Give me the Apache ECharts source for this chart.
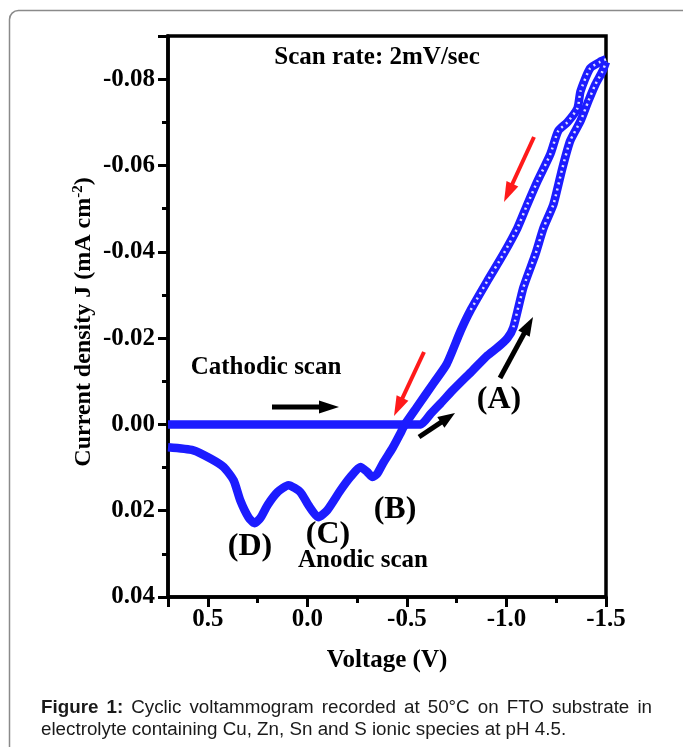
<!DOCTYPE html>
<html>
<head>
<meta charset="utf-8">
<script src="https://cdn.jsdelivr.net/npm/echarts@6/dist/echarts.min.js"></script>
<style>
  html, body { margin: 0; padding: 0; background: #fff; }
  #chart { width: 683px; height: 747px; }
</style>
</head>
<body>
<div id="chart"></div>
<script>
// Forward (cathodic) sweep: potential in V, current density in mA cm^-2
const cathodicV = [0.70, 0.50, 0.30, 0.10, -0.10, -0.30, -0.50, -0.57, -0.62, -0.67, -0.73, -0.83, -0.905, -0.955, -1.005, -1.035, -1.085, -1.146, -1.186, -1.236, -1.281, -1.32, -1.372, -1.412, -1.447, -1.482, -1.50];
const cathodicJ = [0.0, 0.0, 0.0, 0.0, 0.0, 0.0, 0.0, 0.0, -0.0025, -0.0049, -0.0079, -0.0125, -0.016, -0.0178, -0.020, -0.0225, -0.0317, -0.0395, -0.0455, -0.051, -0.0594, -0.0657, -0.0703, -0.075, -0.0788, -0.0818, -0.084];

// Reverse (anodic) sweep
const anodicV = [-1.50, -1.47, -1.42, -1.372, -1.357, -1.306, -1.26, -1.221, -1.156, -1.105, -1.055, -0.985, -0.905, -0.819, -0.77, -0.70, -0.633, -0.55, -0.49, -0.467, -0.43, -0.38, -0.35, -0.327, -0.30, -0.266, -0.216, -0.166, -0.10, -0.055, -0.005, 0.035, 0.095, 0.15, 0.20, 0.236, 0.266, 0.296, 0.337, 0.37, 0.42, 0.487, 0.573, 0.70];
const anodicJ = [-0.0846, -0.084, -0.0825, -0.0772, -0.0733, -0.070, -0.068, -0.0627, -0.0564, -0.051, -0.0455, -0.0395, -0.0333, -0.0264, -0.0217, -0.014, -0.0095, -0.004, 0.0, 0.0021, 0.0053, 0.009, 0.0115, 0.0122, 0.011, 0.0099, 0.0122, 0.0153, 0.0199, 0.0215, 0.0187, 0.0157, 0.0141, 0.0157, 0.0187, 0.0217, 0.0229, 0.0215, 0.0176, 0.013, 0.0099, 0.0079, 0.006, 0.0053];

// Tick labels
const xTickLabels = [0.5, 0.0, -0.5, -1.0, -1.5];
const yTickLabels = [-0.08, -0.06, -0.04, -0.02, 0.00, 0.02, 0.04];

const zip = (xs, ys) => xs.map((x, i) => [x, ys[i]]);
const SERIF = '"Liberation Serif", "Times New Roman", serif';
const SANS = '"Liberation Sans", Arial, sans-serif';
const BLUE = '#1c1cff';

// where the sweep is steep the open-circle markers spread apart and the trace looks speckled
const steep = (pts) => pts.filter(p => p[1] <= -0.022);

const chart = echarts.init(document.getElementById('chart'), null, { renderer: 'canvas' });

function arrow(x1, y1, x2, y2, color, w, hl, hw) {
  const dx = x2 - x1, dy = y2 - y1, L = Math.hypot(dx, dy);
  const ux = dx / L, uy = dy / L, px = -uy, py = ux;
  const bx = x2 - ux * hl, by = y2 - uy * hl;
  return [
    { type: 'line', shape: { x1: x1, y1: y1, x2: bx + ux, y2: by + uy }, style: { stroke: color, lineWidth: w } },
    { type: 'polygon', shape: { points: [[x2, y2], [bx + px * hw / 2, by + py * hw / 2], [bx - px * hw / 2, by - py * hw / 2]] }, style: { fill: color } }
  ];
}

function label(text, x, y, size) {
  return {
    type: 'text', x: x, y: y,
    style: { text: text, fontFamily: SERIF, fontWeight: 'bold', fontSize: size, fill: '#000', align: 'center', verticalAlign: 'middle' }
  };
}

// Caption, first line justified between its margins
function captionLine1(left, right, y, size) {
  const words = [['Figure', true], ['1:', true], ['Cyclic'], ['voltammogram'], ['recorded'], ['at'], ['50°C'], ['on'], ['FTO'], ['substrate'], ['in']];
  const ctx = document.createElement('canvas').getContext('2d');
  const widths = words.map(([w, b]) => {
    ctx.font = (b ? 'bold ' : '') + size + 'px ' + SANS;
    return ctx.measureText(w).width;
  });
  const total = widths.reduce((a, b) => a + b, 0);
  const gap = (right - left - total) / (words.length - 1);
  let x = left;
  return words.map(([w, b], i) => {
    const el = {
      type: 'text', x: x, y: y,
      style: { text: w, fontFamily: SANS, fontWeight: b ? 'bold' : 'normal', fontSize: size, fill: '#1a1a1a', align: 'left', verticalAlign: 'middle' }
    };
    x += widths[i] + gap;
    return el;
  });
}

const graphics = [
  // figure frame
  { type: 'rect', shape: { x: 9.5, y: 10.5, width: 700, height: 800, r: [9, 0, 0, 0] }, style: { fill: 'none', stroke: '#8a8a8a', lineWidth: 1.5 }, silent: true },
  label('Scan rate: 2mV/sec', 377, 58, 25),
  label('Cathodic scan', 266, 368, 25),
  label('Anodic scan', 363, 561, 25),
  label('(A)', 499, 400, 32),
  label('(B)', 395, 510, 32),
  label('(C)', 328, 535, 32),
  label('(D)', 250, 547, 32),
  {
    type: 'text', x: 84, y: 322, rotation: Math.PI / 2,
    style: {
      text: 'Current density J (mA cm{sup|-2})',
      fontFamily: SERIF, fontWeight: 'bold', fontSize: 24, fill: '#000', align: 'center', verticalAlign: 'middle',
      rich: { sup: { fontFamily: SERIF, fontWeight: 'bold', fontSize: 15, verticalAlign: 'top', padding: [0, 0, 12, 0] } }
    }
  },
  label('Voltage (V)', 387, 661, 25),
  ...arrow(534, 137, 504, 202, '#ff1a1a', 4, 20, 13),
  ...arrow(424, 352, 394, 416, '#ff1a1a', 4, 20, 13),
  ...arrow(272, 407, 339, 407, '#000', 5, 20, 13),
  ...arrow(419, 437, 455, 413, '#000', 5, 17, 13),
  ...arrow(500, 378, 533, 317, '#000', 5, 19, 13),
  ...captionLine1(41, 652, 708, 18.8),
  {
    type: 'text', x: 41, y: 730,
    style: { text: 'electrolyte containing Cu, Zn, Sn and S ionic species at pH 4.5.', fontFamily: SANS, fontSize: 18.8, fill: '#1a1a1a', align: 'left', verticalAlign: 'middle' }
  }
];

const tickLabel = (list, digits) => (v) => {
  const hit = list.find(t => Math.abs(t - v) < 1e-9);
  return hit === undefined ? '' : (Math.abs(hit) < 1e-12 ? 0 : hit).toFixed(digits);
};

const traceSeries = (name, pts) => ({
  name: name, type: 'line', xAxisIndex: 0, yAxisIndex: 0,
  data: pts, showSymbol: false, smooth: 0.2,
  lineStyle: { color: BLUE, width: 8.5 }, clip: true, z: 3
});
const speckleSeries = (name, pts) => ({
  name: name, type: 'line', xAxisIndex: 0, yAxisIndex: 0,
  data: pts, showSymbol: false, smooth: 0.2, silent: true,
  lineStyle: { color: '#ffffff', width: 2.5, type: [2, 4], opacity: 0.85 }, clip: true, z: 4
});

const option = {
  animation: false,
  backgroundColor: '#fff',
  grid: { left: 168, right: 77, top: 36, bottom: 150, show: true, borderColor: '#000', borderWidth: 3.5, backgroundColor: 'transparent' },
  xAxis: {
    type: 'value', inverse: true, min: -1.5, max: 0.7, interval: 0.5,
    axisLine: { show: true, onZero: false, lineStyle: { color: '#000', width: 3.5 } },
    axisTick: { show: true, inside: false, length: 10, lineStyle: { color: '#000', width: 3 } },
    minorTick: { show: true, splitNumber: 2, length: 6, lineStyle: { color: '#000', width: 3 } },
    splitLine: { show: false },
    axisLabel: { margin: 10, formatter: tickLabel(xTickLabels, 1), fontFamily: SERIF, fontWeight: 'bold', fontSize: 25, color: '#000' }
  },
  yAxis: [
    {
      // data axis: J in mA cm^-2, most negative at top; carries the minor ticks
      type: 'value', inverse: true, min: -0.09, max: 0.04, interval: 0.01, position: 'left',
      axisLine: { show: true, onZero: false, lineStyle: { color: '#000', width: 3.5 } },
      axisTick: { show: true, length: 6, lineStyle: { color: '#000', width: 3 } },
      splitLine: { show: false },
      axisLabel: { show: false }
    },
    {
      // label axis in units of -J x 100, carries the major ticks and labels
      type: 'value', min: -4, max: 9, interval: 2, position: 'left',
      axisLine: { show: false, onZero: false },
      axisTick: { show: true, length: 10, lineStyle: { color: '#000', width: 3 } },
      splitLine: { show: false },
      axisLabel: {
        margin: 13, fontFamily: SERIF, fontWeight: 'bold', fontSize: 25, color: '#000',
        formatter: (v) => tickLabel(yTickLabels, 2)(-v / 100)
      }
    }
  ],
  series: [
    traceSeries('cathodic', zip(cathodicV, cathodicJ)),
    traceSeries('anodic', zip(anodicV, anodicJ)),
    speckleSeries('cathodic-steep', steep(zip(cathodicV, cathodicJ))),
    speckleSeries('anodic-steep', steep(zip(anodicV, anodicJ)))
  ],
  graphic: graphics
};

chart.setOption(option);
</script>
</body>
</html>
